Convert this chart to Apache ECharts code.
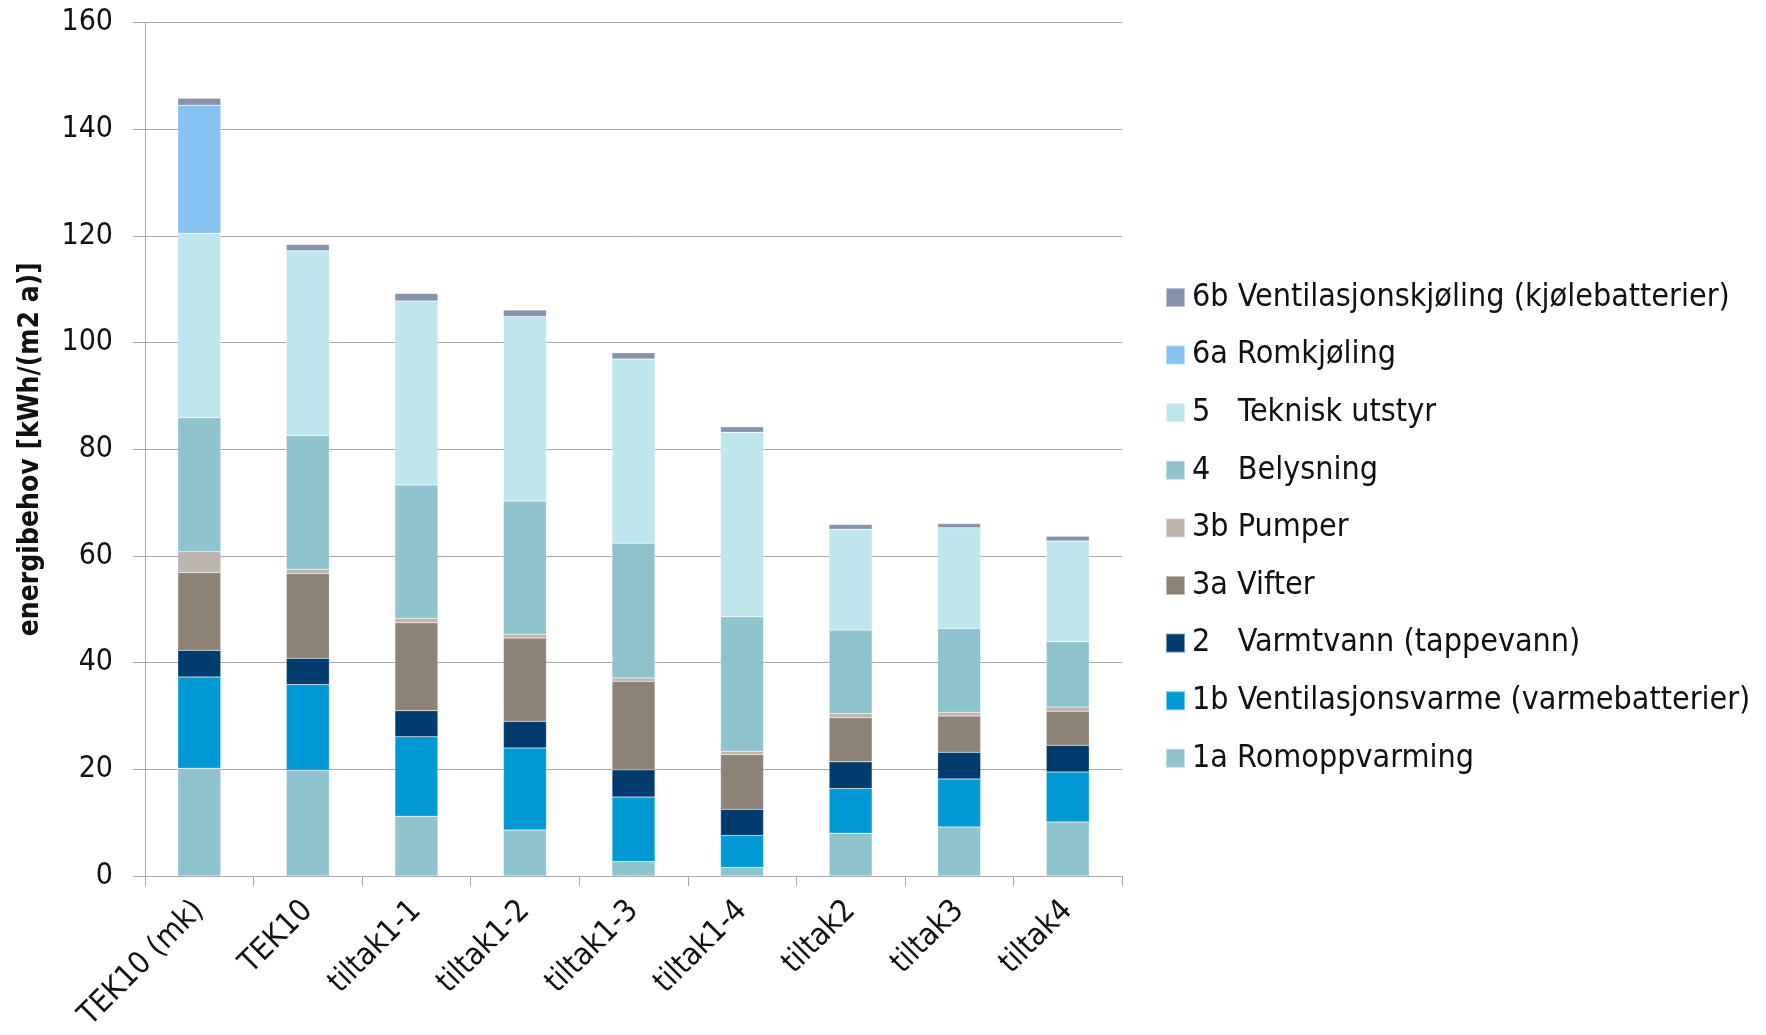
<!DOCTYPE html>
<html>
<head>
<meta charset="utf-8">
<script src="https://cdn.jsdelivr.net/npm/echarts@6/dist/echarts.min.js"></script>
<style>
  html, body { margin: 0; padding: 0; background: #ffffff; }
  #chart { width: 1766px; height: 1035px; }
</style>
</head>
<body>
<div id="chart"></div>
<script>
// Energibehov per tiltak, kWh/(m2 a), stablet etter budsjettpost
const categories = ['TEK10 (mk)', 'TEK10', 'tiltak1-1', 'tiltak1-2', 'tiltak1-3', 'tiltak1-4', 'tiltak2', 'tiltak3', 'tiltak4'];

const romoppvarming      = [20.2, 19.8, 11.2, 8.6, 2.7, 1.6, 8.0, 9.2, 10.1];
const ventilasjonsvarme  = [17.1, 16.1, 14.9, 15.4, 12.1, 6.0, 8.4, 9.0, 9.4];
const varmtvann          = [5.0, 4.9, 4.9, 5.0, 5.1, 4.9, 5.0, 5.0, 5.0];
const vifter             = [14.6, 15.9, 16.5, 15.6, 16.6, 10.3, 8.3, 6.8, 6.4];
const pumper             = [3.9, 0.8, 0.8, 0.7, 0.6, 0.6, 0.7, 0.7, 0.8];
const belysning          = [25.1, 25.1, 25.0, 25.0, 25.3, 25.2, 15.7, 15.7, 12.2];
const tekniskUtstyr      = [34.6, 34.6, 34.5, 34.6, 34.5, 34.6, 18.9, 18.9, 18.9];
const romkjoling         = [24.0, 0, 0, 0, 0, 0, 0, 0, 0];
const ventilasjonskjoling = [1.3, 1.2, 1.4, 1.2, 1.2, 1.0, 0.9, 0.8, 0.9];

const yTicks = { min: 0, max: 160, interval: 20 };

const seriesDefs = [
  { name: '1a Romoppvarming', data: romoppvarming, color: '#8fc3cd' },
  { name: '1b Ventilasjonsvarme (varmebatterier)', data: ventilasjonsvarme, color: '#0099d5' },
  { name: '2   Varmtvann (tappevann)', data: varmtvann, color: '#003b6e' },
  { name: '3a Vifter', data: vifter, color: '#8c8276' },
  { name: '3b Pumper', data: pumper, color: '#bcb4ae' },
  { name: '4   Belysning', data: belysning, color: '#8fc3cd' },
  { name: '5   Teknisk utstyr', data: tekniskUtstyr, color: '#bde6ed' },
  { name: '6a Romkjøling', data: romkjoling, color: '#87c3f2' },
  { name: '6b Ventilasjonskjøling (kjølebatterier)', data: ventilasjonskjoling, color: '#8792ad' }
];

const FONT = "'DejaVu Sans Condensed', 'Liberation Sans Narrow', 'Liberation Sans', sans-serif";
const GRID_COLOR = '#a8a8a8';

const chart = echarts.init(document.getElementById('chart'), null, { renderer: 'canvas' });

chart.setOption({
  animation: false,
  backgroundColor: '#ffffff',
  textStyle: { fontFamily: FONT },
  grid: { left: 145, right: 644, top: 22.5, bottom: 159, containLabel: false },
  legend: {
    orient: 'vertical',
    left: 1160,
    top: 276.5,
    itemWidth: 19,
    itemHeight: 19,
    itemGap: 25.6,
    icon: 'rect',
    data: seriesDefs.map(s => s.name).reverse(),
    textStyle: { fontFamily: FONT, fontSize: 32, color: '#111111', lineHeight: 32, padding: [0, 0, 0, 2] }
  },
  xAxis: {
    type: 'category',
    data: categories,
    axisLine: { show: true, lineStyle: { color: GRID_COLOR, width: 1 } },
    axisTick: { show: true, alignWithLabel: false, length: 10, lineStyle: { color: GRID_COLOR } },
    axisLabel: { rotate: 45, fontSize: 31, color: '#111111', margin: 30, fontFamily: FONT, interval: 0 }
  },
  yAxis: {
    type: 'value',
    min: yTicks.min,
    max: yTicks.max,
    interval: yTicks.interval,
    name: 'energibehov [kWh/(m2 a)]',
    nameLocation: 'middle',
    nameGap: 100,
    nameRotate: 90,
    nameTextStyle: { fontFamily: FONT, fontSize: 28, fontWeight: 'bold', color: '#111111' },
    axisLine: { show: true, lineStyle: { color: GRID_COLOR, width: 1 } },
    axisTick: { show: true, inside: false, length: 12, lineStyle: { color: GRID_COLOR } },
    axisLabel: { fontSize: 30, color: '#111111', margin: 32, fontFamily: FONT },
    splitLine: { show: true, lineStyle: { color: GRID_COLOR, width: 1 } }
  },
  series: seriesDefs.map(s => ({
    name: s.name,
    type: 'bar',
    stack: 'total',
    barWidth: 43,
    data: s.data,
    itemStyle: { color: s.color, borderColor: 'rgba(255,255,255,0.45)', borderWidth: 0.5 },
    emphasis: { disabled: true }
  }))
});
</script>
</body>
</html>
